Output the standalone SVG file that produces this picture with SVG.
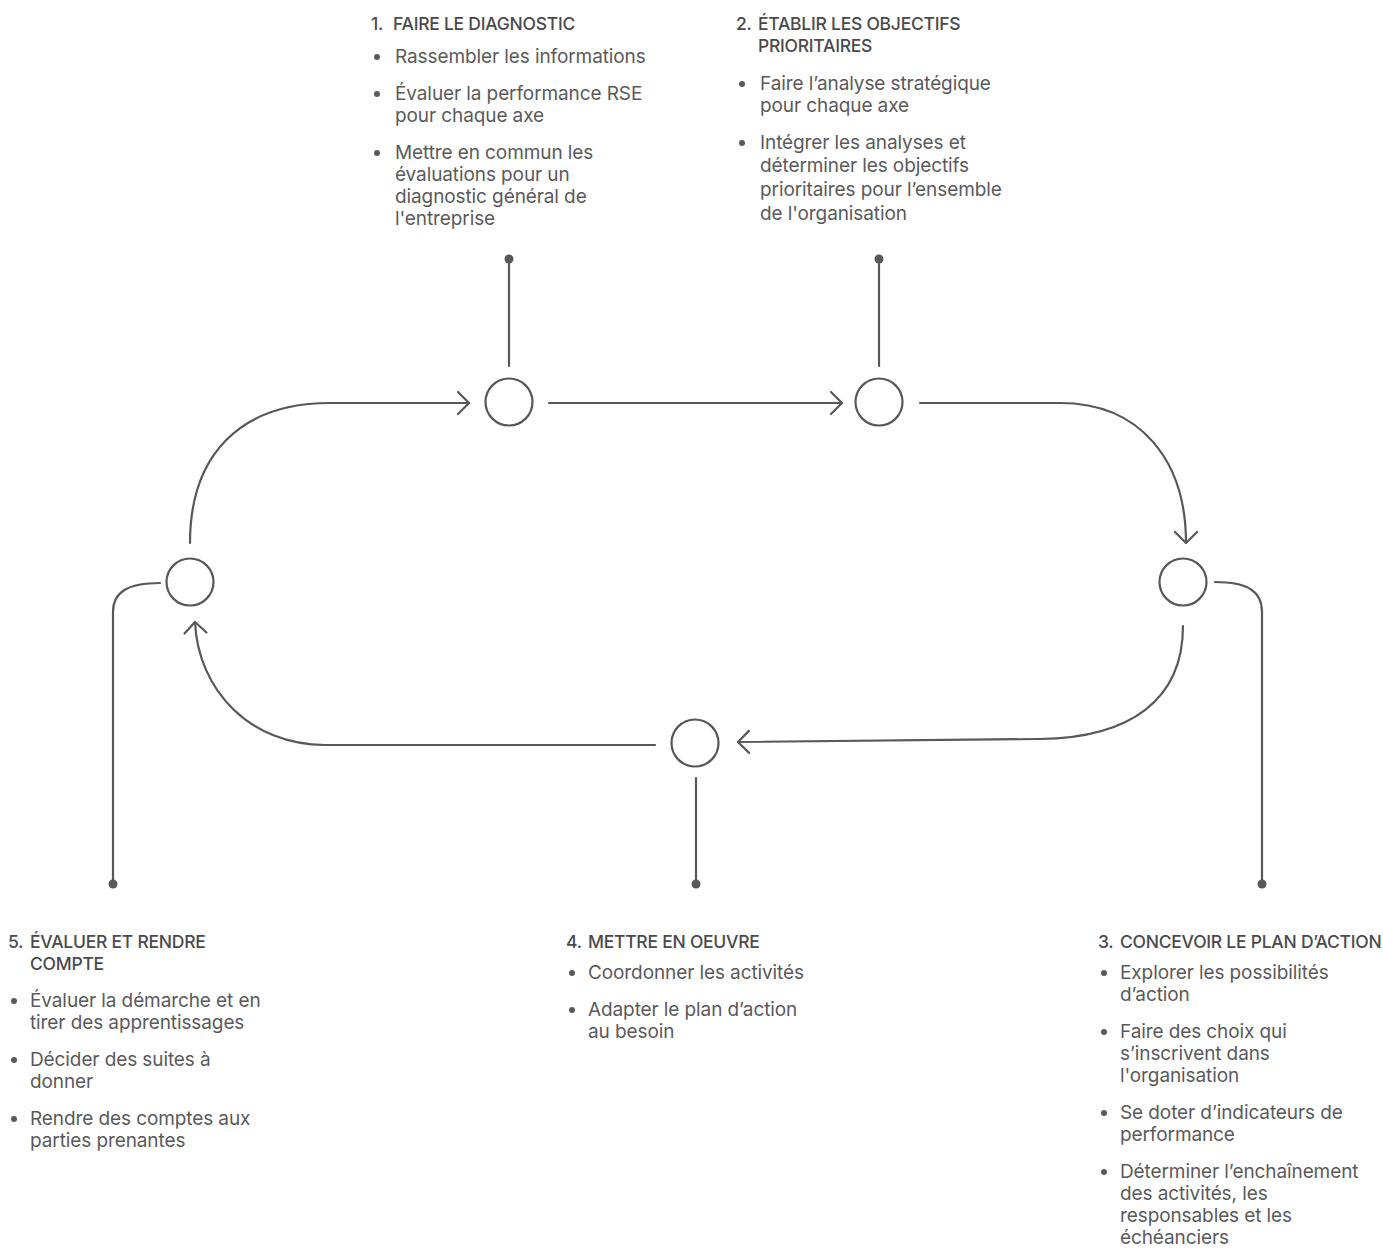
<svg xmlns="http://www.w3.org/2000/svg" width="1383" height="1259" viewBox="0 0 1383 1259">
<style>
.ln{fill:none;stroke:#58585a;stroke-width:2.2;stroke-linecap:round}
.nd{fill:#fff;stroke:#58585a;stroke-width:2.2}
.dot{fill:#58585a}
.t{font-family:Inter,"Liberation Sans",sans-serif;font-size:17.5px;font-weight:500;fill:#4a4a4c;letter-spacing:-0.25px}
.b{font-family:Inter,"Liberation Sans",sans-serif;font-size:19px;font-weight:400;fill:#5a5a5c;letter-spacing:-0.1px}
.bd{fill:#5a5a5c}
</style>
<defs>
<marker id="arr" markerUnits="userSpaceOnUse" markerWidth="30" markerHeight="30" viewBox="-15 -15 30 30" refX="0" refY="0" orient="auto">
<path d="M-11,-11 L0,0 L-11,11" fill="none" stroke="#58585a" stroke-width="2.2" stroke-linecap="round" stroke-linejoin="round"/>
</marker>
</defs>
<rect width="1383" height="1259" fill="#fff"/>
<g id="connectors">
<path class="ln" d="M190 543 C190 455 240 403 330 403 L469 403" marker-end="url(#arr)"/>
<path class="ln" d="M549 403 L842 403" marker-end="url(#arr)"/>
<path class="ln" d="M920 403 L1060 403 C1140 403 1186 460 1186 543" marker-end="url(#arr)"/>
<path class="ln" d="M1183 626 C1183 700 1130 738 1040 739 L738 742" marker-end="url(#arr)"/>
<path class="ln" d="M655 745 L325 745 C250 745 198 690 195 622" marker-end="url(#arr)"/>
<path class="ln" d="M509 366 L509 259"/>
<path class="ln" d="M879 366 L879 259"/>
<path class="ln" d="M696 778 L696 884"/>
<path class="ln" d="M160 583 C128 583 113 592 113 612 L113 884"/>
<path class="ln" d="M1215 582 C1247 582 1262 591 1262 612 L1262 884"/>
<circle class="dot" cx="509" cy="259" r="4.5"/>
<circle class="dot" cx="879" cy="259" r="4.5"/>
<circle class="dot" cx="696" cy="884" r="4.5"/>
<circle class="dot" cx="113" cy="884" r="4.5"/>
<circle class="dot" cx="1262" cy="884" r="4.5"/>
</g>
<g id="node1"><circle class="nd" cx="509" cy="402" r="23.5"/></g>
<g id="node2"><circle class="nd" cx="879" cy="402" r="23.5"/></g>
<g id="node3"><circle class="nd" cx="1183" cy="582" r="23.5"/></g>
<g id="node4"><circle class="nd" cx="695" cy="743" r="23.5"/></g>
<g id="node5"><circle class="nd" cx="190" cy="582" r="23.5"/></g>

<g id="label1">
<text class="t" x="371" y="30">1.</text><text class="t" x="393" y="30">FAIRE LE DIAGNOSTIC</text>
<circle class="bd" cx="377" cy="57" r="3"/>
<text class="b" x="395" y="63">Rassembler les informations</text>
<circle class="bd" cx="377" cy="94" r="3"/>
<text class="b" x="395" y="100">Évaluer la performance RSE</text>
<text class="b" x="395" y="122">pour chaque axe</text>
<circle class="bd" cx="377" cy="153" r="3"/>
<text class="b" x="395" y="159">Mettre en commun les</text>
<text class="b" x="395" y="181">évaluations pour un</text>
<text class="b" x="395" y="203">diagnostic général de</text>
<text class="b" x="395" y="225">l'entreprise</text>
</g>
<g id="label2">
<text class="t" x="736" y="30">2.</text><text class="t" x="758" y="30">ÉTABLIR LES OBJECTIFS</text>
<text class="t" x="758" y="52">PRIORITAIRES</text>
<circle class="bd" cx="742" cy="84" r="3"/>
<text class="b" x="760" y="90">Faire l’analyse stratégique</text>
<text class="b" x="760" y="112">pour chaque axe</text>
<circle class="bd" cx="742" cy="143" r="3"/>
<text class="b" x="760" y="149">Intégrer les analyses et</text>
<text class="b" x="760" y="172">déterminer les objectifs</text>
<text class="b" x="760" y="196">prioritaires pour l’ensemble</text>
<text class="b" x="760" y="220">de l'organisation</text>
</g>
<g id="label5">
<text class="t" x="8" y="948">5.</text><text class="t" x="30" y="948">ÉVALUER ET RENDRE</text>
<text class="t" x="30" y="970">COMPTE</text>
<circle class="bd" cx="14" cy="1001" r="3"/>
<text class="b" x="30" y="1007">Évaluer la démarche et en</text>
<text class="b" x="30" y="1029">tirer des apprentissages</text>
<circle class="bd" cx="14" cy="1060" r="3"/>
<text class="b" x="30" y="1066">Décider des suites à</text>
<text class="b" x="30" y="1088">donner</text>
<circle class="bd" cx="14" cy="1119" r="3"/>
<text class="b" x="30" y="1125">Rendre des comptes aux</text>
<text class="b" x="30" y="1147">parties prenantes</text>
</g>
<g id="label4">
<text class="t" x="566" y="948">4.</text><text class="t" x="588" y="948">METTRE EN OEUVRE</text>
<circle class="bd" cx="572" cy="973" r="3"/>
<text class="b" x="588" y="979">Coordonner les activités</text>
<circle class="bd" cx="572" cy="1010" r="3"/>
<text class="b" x="588" y="1016">Adapter le plan d’action</text>
<text class="b" x="588" y="1038">au besoin</text>
</g>
<g id="label3">
<text class="t" x="1098" y="948">3.</text><text class="t" x="1120" y="948">CONCEVOIR LE PLAN D’ACTION</text>
<circle class="bd" cx="1104" cy="973" r="3"/>
<text class="b" x="1120" y="979">Explorer les possibilités</text>
<text class="b" x="1120" y="1001">d’action</text>
<circle class="bd" cx="1104" cy="1032" r="3"/>
<text class="b" x="1120" y="1038">Faire des choix qui</text>
<text class="b" x="1120" y="1060">s’inscrivent dans</text>
<text class="b" x="1120" y="1082">l'organisation</text>
<circle class="bd" cx="1104" cy="1113" r="3"/>
<text class="b" x="1120" y="1119">Se doter d’indicateurs de</text>
<text class="b" x="1120" y="1141">performance</text>
<circle class="bd" cx="1104" cy="1172" r="3"/>
<text class="b" x="1120" y="1178">Déterminer l’enchaînement</text>
<text class="b" x="1120" y="1200">des activités, les</text>
<text class="b" x="1120" y="1222">responsables et les</text>
<text class="b" x="1120" y="1244">échéanciers</text>
</g>
</svg>
